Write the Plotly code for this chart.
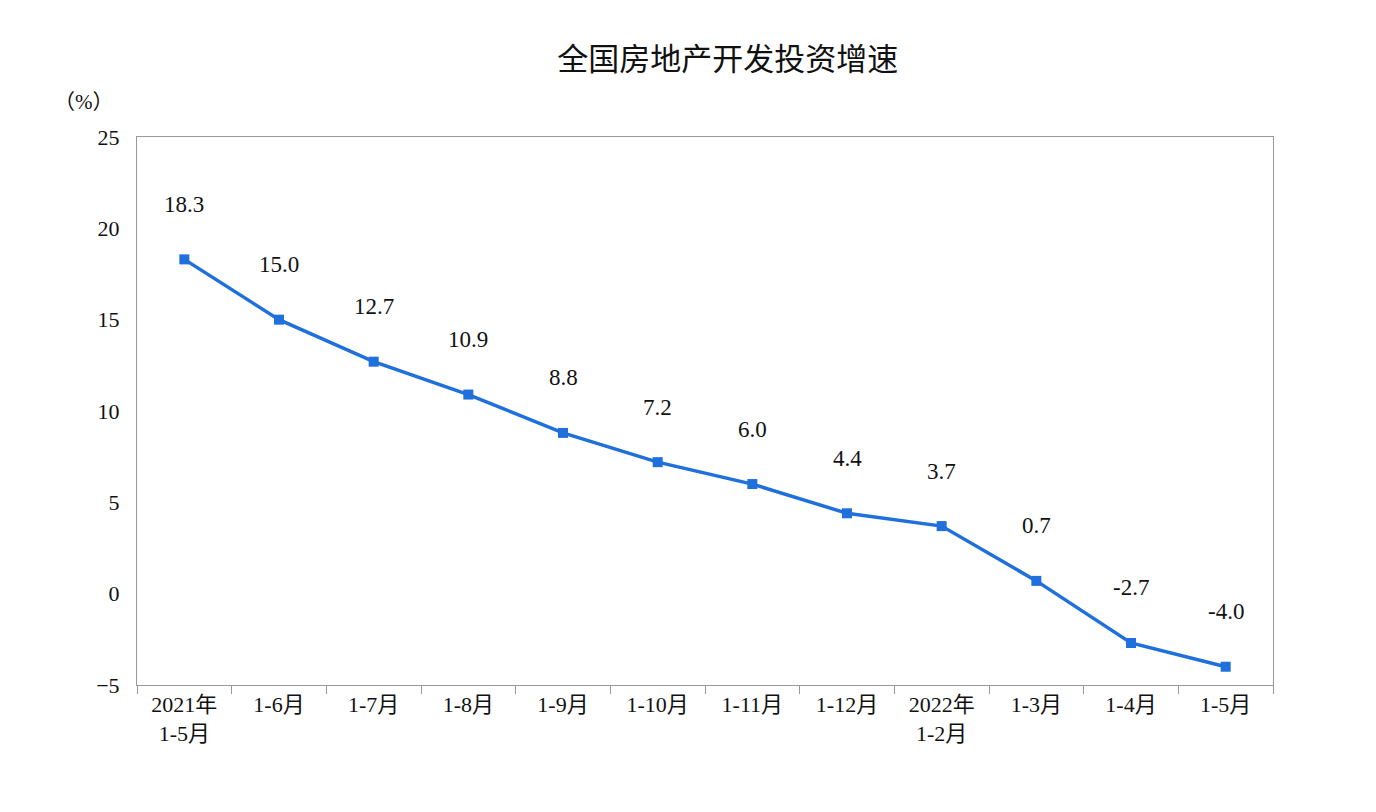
import plotly.graph_objects as go

categories = ["2021年<br>1-5月", "1-6月", "1-7月", "1-8月", "1-9月", "1-10月", "1-11月",
              "1-12月", "2022年<br>1-2月", "1-3月", "1-4月", "1-5月"]
growth = [18.3, 15.0, 12.7, 10.9, 8.8, 7.2, 6.0, 4.4, 3.7, 0.7, -2.7, -4.0]
y_ticks = [-5, 0, 5, 10, 15, 20, 25]

font_num = "Liberation Serif, Noto Sans CJK SC, serif"
fig = go.Figure()
fig.add_trace(go.Scatter(
    x=categories, y=growth, mode="lines+markers",
    line=dict(color="#1f6fdc", width=3.5),
    marker=dict(symbol="square", size=10, color="#1f6fdc"),
))
for c, v in zip(categories, growth):
    fig.add_annotation(x=c, y=v, text=f"{v:.1f}", showarrow=False, yshift=55,
                       font=dict(family=font_num, size=23, color="#111"))
fig.add_annotation(xref="paper", yref="paper", x=-0.075, y=1.09, text="（%）",
                   showarrow=False, font=dict(family=font_num, size=21, color="#111"))
fig.update_layout(
    width=1376, height=812, paper_bgcolor="white", plot_bgcolor="white",
    margin=dict(l=129, r=111, t=129, b=135),
    showlegend=False,
    title=dict(text="全国房地产开发投资增速", x=0.523, y=0.95, xanchor="center",
               font=dict(family="Noto Sans CJK SC", size=31, color="#111")),
    xaxis=dict(type="category", range=[-0.5, 11.5], tickson="boundaries",
               ticks="outside", ticklen=8, tickcolor="#999",
               showline=True, linecolor="#999", mirror=True, showgrid=False,
               tickfont=dict(family=font_num, size=22, color="#111")),
    yaxis=dict(range=[-5, 25], tickvals=y_ticks, showgrid=False, zeroline=False,
               showline=True, linecolor="#999", mirror=True, ticks="",
               tickfont=dict(family=font_num, size=22, color="#111"), ticklabelstandoff=12),
)
fig.write_html("out.html")
